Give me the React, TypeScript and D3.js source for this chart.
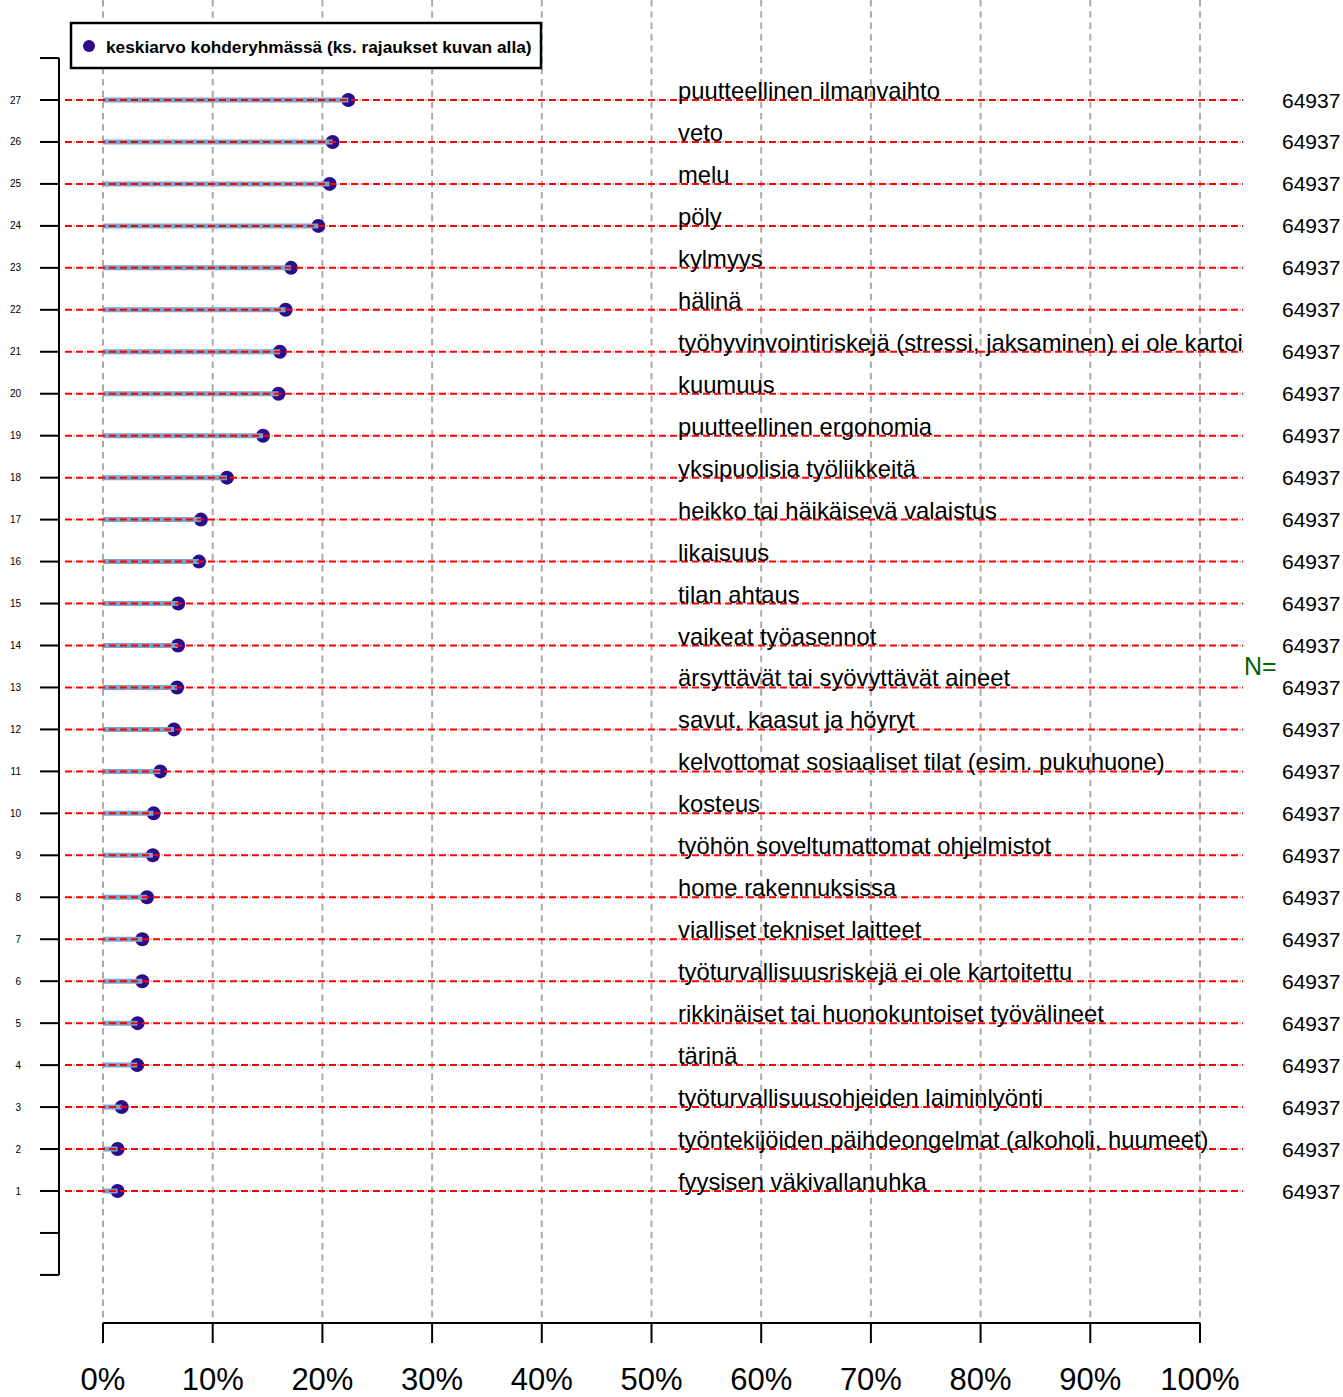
import React from "react";
import * as d3 from "d3";

const categories: string[] = [
  "fyysisen väkivallanuhka",
  "työntekijöiden päihdeongelmat (alkoholi, huumeet)",
  "työturvallisuusohjeiden laiminlyönti",
  "tärinä",
  "rikkinäiset tai huonokuntoiset työvälineet",
  "työturvallisuusriskejä ei ole kartoitettu",
  "vialliset tekniset laitteet",
  "home rakennuksissa",
  "työhön soveltumattomat ohjelmistot",
  "kosteus",
  "kelvottomat sosiaaliset tilat (esim. pukuhuone)",
  "savut, kaasut ja höyryt",
  "ärsyttävät tai syövyttävät aineet",
  "vaikeat työasennot",
  "tilan ahtaus",
  "likaisuus",
  "heikko tai häikäisevä valaistus",
  "yksipuolisia työliikkeitä",
  "puutteellinen ergonomia",
  "kuumuus",
  "työhyvinvointiriskejä (stressi, jaksaminen) ei ole kartoi",
  "hälinä",
  "kylmyys",
  "pöly",
  "melu",
  "veto",
  "puutteellinen ilmanvaihto",
];

const values: number[] = [
  1.33, 1.33, 1.7, 3.12, 3.15, 3.58, 3.58, 4.01, 4.54, 4.62, 5.22, 6.47, 6.75,
  6.84, 6.86, 8.75, 8.93, 11.3, 14.59, 16.0, 16.13, 16.65, 17.14, 19.63, 20.66,
  20.93, 22.36,
];

const nValues: number[] = categories.map(() => 64937);

const xTicks: number[] = [0, 10, 20, 30, 40, 50, 60, 70, 80, 90, 100];
const yTicks: number[] = d3.range(-1, 29);

const legendLabel = "keskiarvo kohderyhmässä (ks. rajaukset kuvan alla)";

const W = 1343;
const H = 1397;
const FONT = "'Liberation Sans', Arial, Helvetica, sans-serif";

export default function App() {
  const x = d3.scaleLinear().domain([0, 100]).range([103, 1200]);
  const y = d3.scaleLinear().domain([1, 27]).range([1191, 100]);
  const rows = categories.map((c, i) => ({ c, v: values[i], n: nValues[i], r: i + 1 }));
  const dotColor = "#2c0b8c";

  return (
    <svg
      width={W}
      height={H}
      style={{ position: "absolute", left: 0, top: 0, background: "#fff" }}
      fontFamily={FONT}
    >
      <rect x={0} y={0} width={W} height={H} fill="#fff" />
      {/* vertical grid */}
      {xTicks.map((t) => (
        <line
          key={"g" + t}
          x1={x(t)}
          x2={x(t)}
          y1={0}
          y2={1323}
          stroke="#aaaaaa"
          strokeWidth={2}
          strokeDasharray="6.5,4.8"
        />
      ))}
      {/* horizontal reference lines (grey dotted under red) */}
      {rows.map((d) => (
        <line
          key={"hg" + d.r}
          x1={65}
          x2={1243}
          y1={y(d.r)}
          y2={y(d.r)}
          stroke="#bbbbbb"
          strokeWidth={2}
          strokeDasharray="1.5,9.5"
          strokeDashoffset={-8.5}
        />
      ))}
      {/* dots */}
      {rows.map((d) => (
        <circle key={"c" + d.r} cx={x(d.v)} cy={y(d.r)} r={7} fill={dotColor} />
      ))}
      {/* blue bars */}
      {rows.map((d) => (
        <line
          key={"b" + d.r}
          x1={x(0)}
          x2={x(d.v)}
          y1={y(d.r)}
          y2={y(d.r)}
          stroke="#7ba4cd"
          strokeWidth={5}
        />
      ))}
      {/* red dashed */}
      {rows.map((d) => (
        <line
          key={"r" + d.r}
          x1={65}
          x2={1243}
          y1={y(d.r)}
          y2={y(d.r)}
          stroke="#ff0000"
          strokeWidth={2}
          strokeDasharray="7,4"
        />
      ))}
      {/* category labels */}
      {rows.map((d) => (
        <text
          key={"t" + d.r}
          x={678}
          y={y(d.r) - 1}
          fontSize={23.8}
          fill="#000"
        >
          {d.c}
        </text>
      ))}
      {/* N values */}
      {rows.map((d) => (
        <text key={"n" + d.r} x={1282} y={y(d.r) + 7.5} fontSize={21} fill="#000">
          {d.n}
        </text>
      ))}
      <text x={1244} y={675} fontSize={25} fill="#006400">
        N=
      </text>
      {/* left axis */}
      <line x1={59} x2={59} y1={y(28)} y2={y(-1)} stroke="#000" strokeWidth={2} />
      {yTicks.map((t) => (
        <line key={"yt" + t} x1={40} x2={59} y1={y(t)} y2={y(t)} stroke="#000" strokeWidth={2} />
      ))}
      {rows.map((d) => (
        <text key={"yl" + d.r} x={21} y={y(d.r) + 3.5} fontSize={10} textAnchor="end" fill="#000">
          {d.r}
        </text>
      ))}
      {/* bottom axis */}
      <line x1={x(0)} x2={x(100)} y1={1323} y2={1323} stroke="#000" strokeWidth={2} />
      {xTicks.map((t) => (
        <g key={"xt" + t}>
          <line x1={x(t)} x2={x(t)} y1={1323} y2={1343} stroke="#000" strokeWidth={2} />
          <text x={x(t)} y={1390} fontSize={31} textAnchor="middle" fill="#000">
            {t + "%"}
          </text>
        </g>
      ))}
      {/* legend */}
      <rect x={71} y={23} width={470} height={45} fill="#fff" stroke="#000" strokeWidth={2.5} />
      <circle cx={89} cy={46} r={6} fill={dotColor} />
      <text x={106} y={52.5} fontSize={17.3} fontWeight="bold" fill="#000">
        {legendLabel}
      </text>
    </svg>
  );
}
